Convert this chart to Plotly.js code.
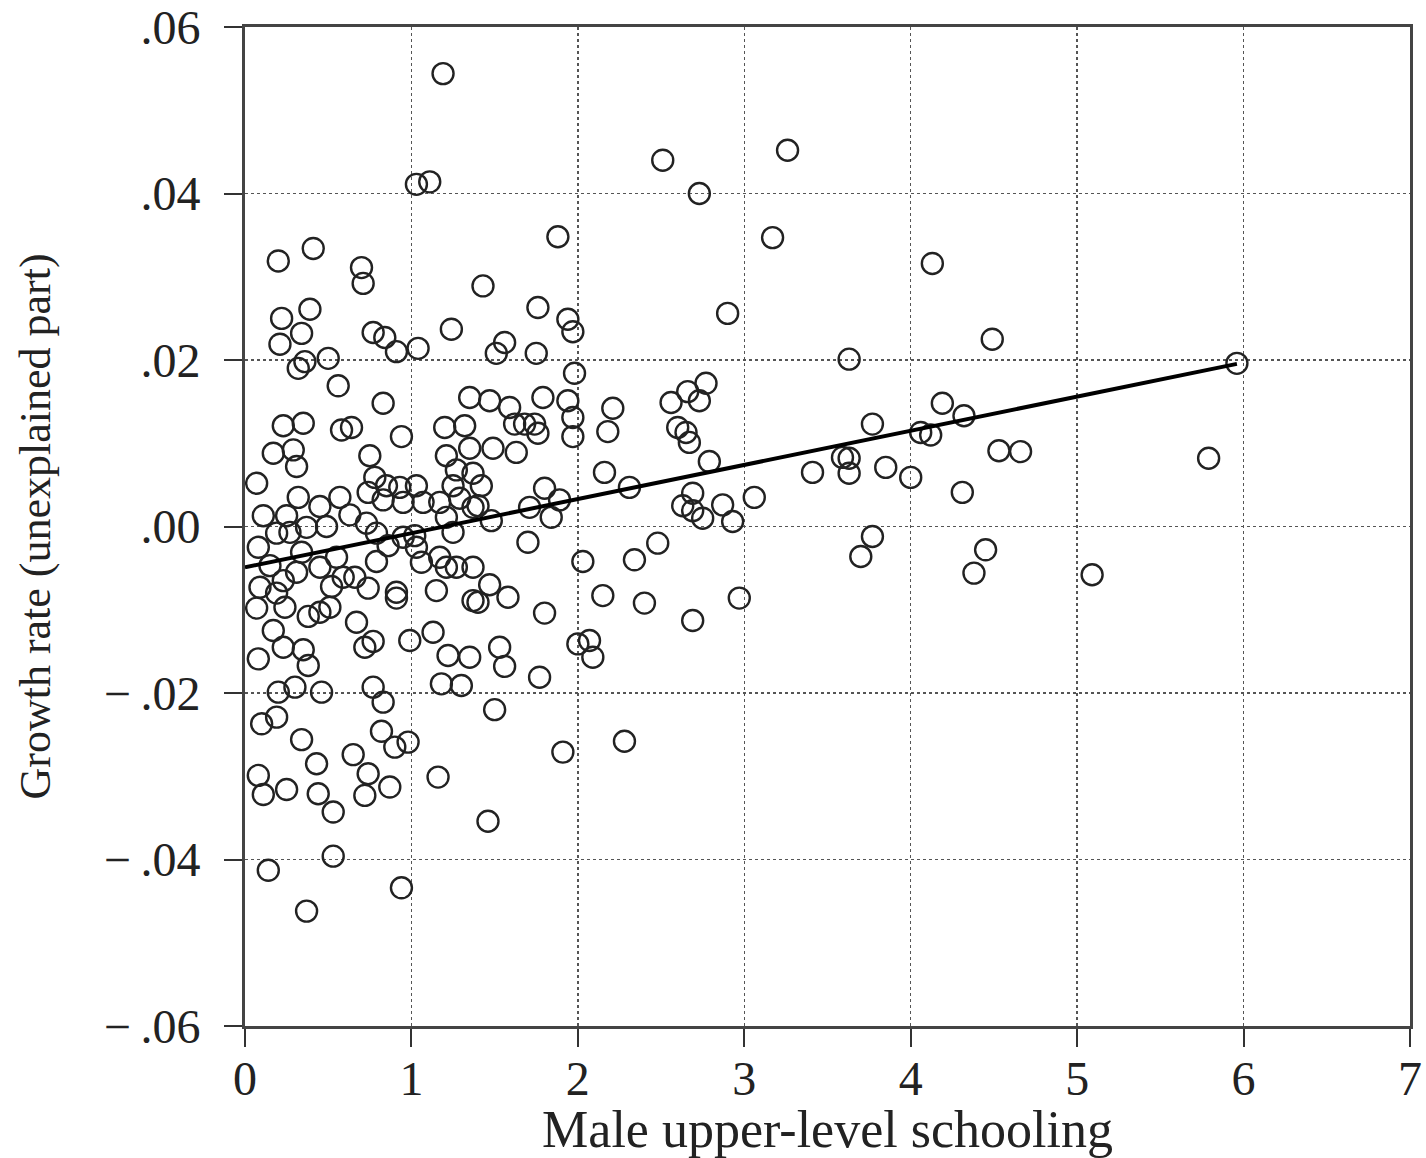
<!DOCTYPE html>
<html>
<head>
<meta charset="utf-8">
<script src="https://cdn.plot.ly/plotly-3.0.1.min.js"></script>
<style>html,body{margin:0;padding:0;background:#fff;}#chart{width:1426px;height:1158px;}</style>
</head>
<body>
<div id="chart"></div>
<script>
// Male upper-level schooling (x) vs growth rate, unexplained part (y)
const schooling = [1.19,1.03,1.11,2.51,2.73,3.26,0.41,0.20,0.70,0.71,1.88,3.17,4.13,
0.39,0.22,0.34,0.21,0.77,0.84,0.91,1.04,1.24,0.36,0.32,0.50,0.56,0.83,0.23,0.35,0.58,0.64,0.94,1.20,1.32,1.35,0.17,0.29,0.75,1.21,1.43,
0.31,0.07,0.78,0.85,0.74,0.83,0.93,1.03,0.95,1.07,1.27,1.37,1.25,1.17,1.29,1.37,1.21,0.32,0.45,0.57,0.11,0.25,0.37,0.49,0.63,0.73,0.79,0.19,0.27,0.08,0.34,0.86,0.95,1.02,1.03,1.25,0.15,0.31,0.45,0.55,0.79,1.06,1.17,1.21,1.27,1.37,0.23,0.09,0.52,0.59,0.66,0.74,0.91,0.91,1.15,0.19,0.07,0.24,0.38,0.45,0.51,1.37,0.67,0.17,0.23,0.35,0.72,0.77,0.99,1.13,0.08,0.38,1.22,1.35,
0.20,0.30,0.46,0.77,0.83,1.18,1.30,0.10,0.19,0.34,0.82,0.90,0.98,0.43,0.65,0.08,0.74,1.16,0.11,0.25,0.44,0.72,0.87,0.53,0.53,0.14,0.94,0.37,1.46,
1.76,1.94,1.97,1.56,1.51,1.75,1.98,1.35,1.47,1.59,1.79,1.94,1.97,2.21,1.62,1.68,1.74,1.76,1.97,2.18,1.49,1.63,2.56,2.66,2.77,2.73,2.60,2.65,2.67,
1.42,1.40,1.48,1.71,1.80,1.89,1.84,2.16,2.31,1.70,2.03,2.34,2.48,2.69,2.63,2.69,2.75,2.79,1.47,1.40,1.58,1.80,2.15,2.40,2.69,2.00,2.07,2.09,1.53,1.56,1.77,
1.50,1.91,2.28,
2.90,3.63,4.49,4.19,4.32,4.06,4.12,3.77,4.53,4.66,3.41,3.59,3.63,3.63,3.85,4.00,
4.31,3.06,2.87,2.93,3.77,3.70,4.45,4.38,2.97,
5.09,5.96,5.79];

const growth = [0.0544,0.0411,0.0414,0.0440,0.0400,0.0452,0.0334,0.0319,0.0311,0.0292,0.0348,0.0347,0.0316,
0.0261,0.0250,0.0232,0.0219,0.0233,0.0227,0.0210,0.0214,0.0237,0.0198,0.0190,0.0202,0.0169,0.0148,0.0121,0.0124,0.0116,0.0119,0.0108,0.0119,0.0121,0.0094,0.0088,0.0092,0.0085,0.0085,0.0289,
0.0072,0.0052,0.0059,0.0049,0.0041,0.0032,0.0047,0.0049,0.0029,0.0029,0.0068,0.0064,0.0049,0.0029,0.0034,0.0023,0.0011,0.0035,0.0024,0.0035,0.0013,0.0013,-0.0001,0.0000,0.0014,0.0004,-0.0008,-0.0008,-0.0007,-0.0025,-0.0031,-0.0023,-0.0013,-0.0011,-0.0025,-0.0007,-0.0047,-0.0055,-0.0049,-0.0037,-0.0042,-0.0043,-0.0037,-0.0049,-0.0049,-0.0049,-0.0065,-0.0073,-0.0072,-0.0061,-0.0061,-0.0074,-0.0079,-0.0086,-0.0077,-0.0080,-0.0098,-0.0097,-0.0108,-0.0103,-0.0097,-0.0089,-0.0115,-0.0125,-0.0145,-0.0148,-0.0145,-0.0138,-0.0137,-0.0127,-0.0159,-0.0167,-0.0155,-0.0157,
-0.0199,-0.0193,-0.0199,-0.0193,-0.0211,-0.0189,-0.0191,-0.0237,-0.0229,-0.0256,-0.0246,-0.0265,-0.0259,-0.0285,-0.0274,-0.0299,-0.0297,-0.0301,-0.0322,-0.0316,-0.0321,-0.0323,-0.0313,-0.0343,-0.0396,-0.0413,-0.0434,-0.0462,-0.0354,
0.0263,0.0249,0.0234,0.0221,0.0208,0.0208,0.0184,0.0155,0.0151,0.0143,0.0155,0.0151,0.0131,0.0142,0.0123,0.0123,0.0123,0.0112,0.0108,0.0114,0.0094,0.0089,0.0149,0.0162,0.0172,0.0151,0.0119,0.0113,0.0101,
0.0049,0.0025,0.0007,0.0023,0.0046,0.0032,0.0011,0.0065,0.0047,-0.0019,-0.0042,-0.0040,-0.0020,0.0040,0.0025,0.0019,0.0010,0.0078,-0.0070,-0.0091,-0.0085,-0.0104,-0.0083,-0.0092,-0.0113,-0.0141,-0.0137,-0.0157,-0.0145,-0.0168,-0.0181,
-0.0220,-0.0271,-0.0258,
0.0256,0.0201,0.0225,0.0148,0.0133,0.0113,0.0110,0.0123,0.0091,0.0090,0.0065,0.0083,0.0082,0.0064,0.0071,0.0059,
0.0041,0.0035,0.0026,0.0006,-0.0012,-0.0036,-0.0028,-0.0056,-0.0086,
-0.0058,0.0196,0.0082];

// Fitted line
const fitIntercept = -0.0049;
const fitSlope = 0.0041;

const xTickVals = [0,1,2,3,4,5,6,7];
const xTickText = ['0','1','2','3','4','5','6','7'];
const yTickVals = [0.06,0.04,0.02,0,-0.02,-0.04,-0.06];
const yTickText = ['.06','.04','.02','.00','\u2212\u2009.02','\u2212\u2009.04','\u2212\u2009.06'];

const xMin = 0;
const xMax = Math.max(...schooling);
const fitX = [xMin, xMax];
const fitY = fitX.map(v => fitIntercept + fitSlope * v);

const serif = 'Liberation Serif, Times New Roman, serif';

const traces = [
  {
    x: schooling, y: growth, type: 'scatter', mode: 'markers',
    marker: {symbol: 'circle-open', size: 21, color: '#222', line: {width: 2.4, color: '#222'}},
    hoverinfo: 'x+y'
  },
  {
    x: fitX, y: fitY, type: 'scatter', mode: 'lines',
    line: {color: '#000', width: 4}, hoverinfo: 'skip'
  }
];

const axisCommon = {
  showline: true, linewidth: 3, linecolor: '#444', mirror: true,
  ticks: 'outside', ticklen: 18, tickwidth: 2, tickcolor: '#333',
  showgrid: true, gridcolor: '#555', gridwidth: 1.5, griddash: 'dot',
  zeroline: false,
  tickfont: {family: serif, size: 48, color: '#222'}
};

const layout = {
  width: 1426, height: 1158,
  margin: {l: 245, r: 16, t: 27, b: 132},
  paper_bgcolor: '#fff', plot_bgcolor: '#fff',
  showlegend: false,
  font: {family: serif, color: '#222'},
  xaxis: Object.assign({}, axisCommon, {
    range: [0, 7], tickmode: 'array', tickvals: xTickVals, ticktext: xTickText,
    ticklabelstandoff: -10,
    title: {text: 'Male upper-level schooling', font: {family: serif, size: 52, color: '#222'}, standoff: 14}
  }),
  yaxis: Object.assign({}, axisCommon, {
    range: [-0.06, 0.06], tickmode: 'array', tickvals: yTickVals, ticktext: yTickText,
    ticklabelstandoff: 14,
    title: {text: 'Growth rate (unexplained part)', font: {family: serif, size: 44, color: '#222'}, standoff: 40}
  })
};

Plotly.newPlot('chart', traces, layout, {displayModeBar: false, staticPlot: true});
</script>
</body>
</html>
